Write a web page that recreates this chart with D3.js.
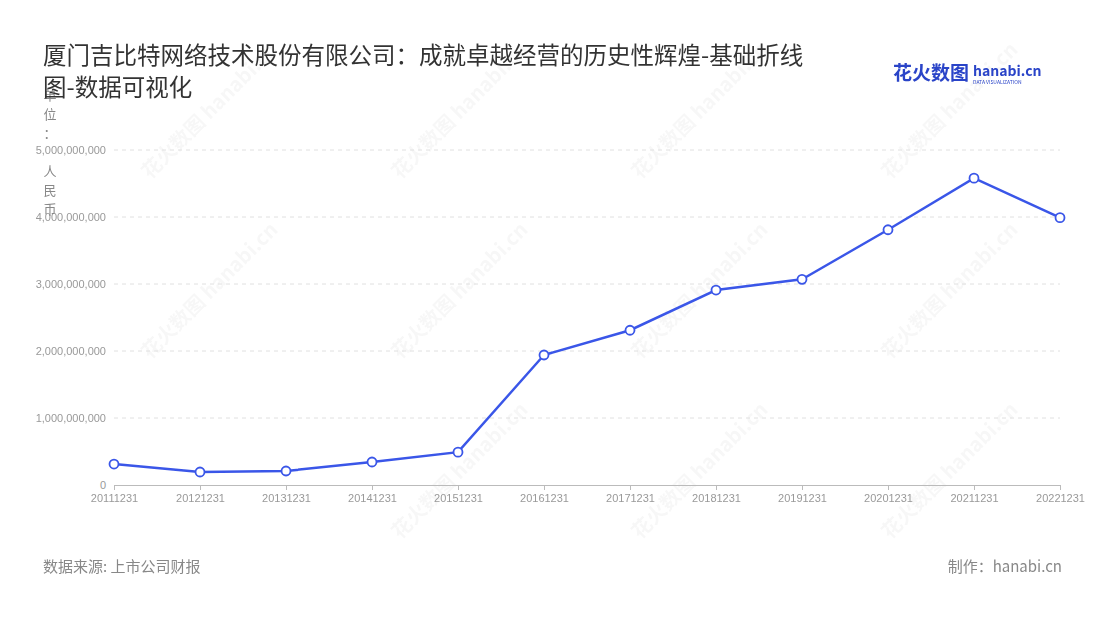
<!DOCTYPE html>
<html><head><meta charset="utf-8">
<script src="https://cdn.jsdelivr.net/npm/d3@7"></script>
<style>body{margin:0;background:#fff;font-family:"Noto Sans CJK SC","Noto Sans",sans-serif}</style>
</head><body><svg id="chart"></svg>
<script>
const dates = ['20111231','20121231','20131231','20141231','20151231','20161231','20171231','20181231','20191231','20201231','20211231','20221231'];
const values = [313e6,194e6,209e6,343e6,490e6,1940e6,2310e6,2910e6,3070e6,3810e6,4580e6,3990e6];
const yTicks = [0,1e9,2e9,3e9,4e9,5e9];

const W = 1100, H = 620;
const margin = {top:150, right:40, bottom:135, left:114};
const svg = d3.select('#chart').attr('width', W).attr('height', H);

const x = d3.scalePoint().domain(dates).range([margin.left, 1060]);
const y = d3.scaleLinear().domain([0, 5e9]).range([H - margin.bottom, margin.top]);

// watermarks
const wm = svg.append('g').attr('fill', '#000').attr('opacity', 0.035).style('font-size', '20px').style('font-weight', 'bold');
[[150,180],[400,180],[640,180],[890,180],[150,360],[400,360],[640,360],[890,360],[400,540],[640,540],[890,540]].forEach(p => {
    wm.append('text').attr('transform', `translate(${p[0]},${p[1]}) rotate(-45)`).text('花火数图 hanabi.cn');
});

svg.append('g')
    .selectAll('line')
    .data(yTicks.slice(1))
    .join('line')
    .attr('x1', margin.left).attr('x2', 1060)
    .attr('y1', d => y(d)).attr('y2', d => y(d))
    .attr('stroke', '#e0e0e0').attr('stroke-dasharray', '4,4');

const yAxis = d3.axisLeft(y).tickValues(yTicks).tickFormat(d3.format(',')).tickSize(0).tickPadding(8);
const yG = svg.append('g').attr('transform', `translate(${margin.left},0)`).call(yAxis);
yG.select('.domain').remove();
yG.selectAll('text').attr('fill', '#999').style('font-size', '11px');

const xAxis = d3.axisBottom(x).tickSize(5).tickPadding(4);
const xG = svg.append('g').attr('transform', `translate(0,${y(0)})`).call(xAxis);
xG.select('.domain').attr('stroke', '#bbb');
xG.selectAll('line').attr('stroke', '#bbb');
xG.selectAll('text').attr('fill', '#999').style('font-size', '11px');

const data = dates.map((d, i) => ({date: d, value: values[i]}));
svg.append('path').datum(data)
    .attr('fill', 'none').attr('stroke', '#3a56e8').attr('stroke-width', 2.5)
    .attr('d', d3.line().x(d => x(d.date)).y(d => y(d.value)));
svg.selectAll('circle.pt').data(data).join('circle')
    .attr('class', 'pt')
    .attr('cx', d => x(d.date)).attr('cy', d => y(d.value)).attr('r', 4.5)
    .attr('fill', '#fff').attr('stroke', '#3a56e8').attr('stroke-width', 1.8);

// vertical unit label
const unitY = [100, 119, 138, 176, 195, 214];
const unit = svg.append('text').attr('fill', '#888').style('font-size', '13px').attr('text-anchor', 'middle');
'单位：人民币'.split('').forEach((c, i) => unit.append('tspan').attr('x', 50).attr('y', unitY[i]).text(c));

const title = svg.append('text').attr('fill', '#333').style('font-size', '23.5px');
title.append('tspan').attr('x', 43).attr('y', 64).text('厦门吉比特网络技术股份有限公司：成就卓越经营的历史性辉煌-基础折线');
title.append('tspan').attr('x', 43).attr('y', 96).text('图-数据可视化');

svg.append('text').attr('x', 893).attr('y', 80).attr('fill', '#2a44c8').style('font-size', '19px').style('font-weight', 'bold').text('花火数图');
svg.append('text').attr('x', 973).attr('y', 76).attr('fill', '#2a44c8').style('font-size', '14px').style('font-weight', 'bold').text('hanabi.cn');
svg.append('text').attr('x', 973).attr('y', 84).attr('fill', '#2a44c8').style('font-size', '5px').text('DATA VISUALIZATION');

svg.append('text').attr('x', 43).attr('y', 572).attr('fill', '#888').style('font-size', '15px').text('数据来源: 上市公司财报');
svg.append('text').attr('x', 1062).attr('y', 572).attr('text-anchor', 'end').attr('fill', '#888').style('font-size', '15px').text('制作：hanabi.cn');
</script></body></html>
